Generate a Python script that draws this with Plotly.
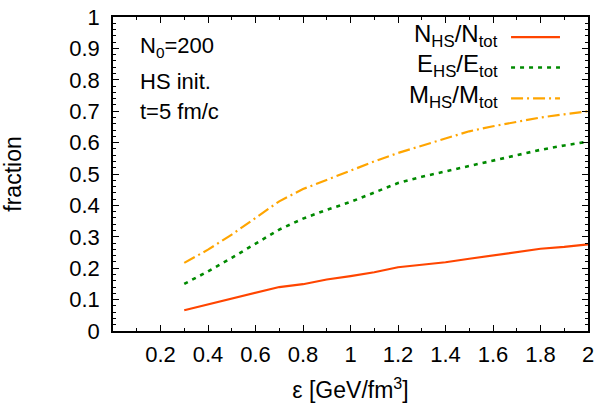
import plotly.graph_objects as go

# energy density grid [GeV/fm^3]
eps = [0.3, 0.4, 0.5, 0.6, 0.7, 0.8, 0.9, 1.0, 1.1, 1.2,
       1.3, 1.4, 1.5, 1.6, 1.7, 1.8, 1.9, 2.0]

# hot-spot fractions at t = 5 fm/c
n_frac = [0.066, 0.085, 0.102, 0.121, 0.140, 0.149, 0.164, 0.175, 0.187,
          0.203, 0.211, 0.219, 0.230, 0.240, 0.251, 0.262, 0.268, 0.276]
e_frac = [0.150, 0.190, 0.233, 0.277, 0.323, 0.358, 0.386, 0.411, 0.442,
          0.471, 0.491, 0.508, 0.525, 0.542, 0.560, 0.577, 0.591, 0.603]
m_frac = [0.217, 0.259, 0.307, 0.360, 0.413, 0.452, 0.482, 0.510, 0.540,
          0.567, 0.590, 0.612, 0.636, 0.652, 0.667, 0.680, 0.690, 0.700]

series_names = ["N<sub>HS</sub>/N<sub>tot</sub>",
                "E<sub>HS</sub>/E<sub>tot</sub>",
                "M<sub>HS</sub>/M<sub>tot</sub>"]
series_colors = ["#ff4500", "#008a00", "#ffa500"]
series_dash = ["solid", "4px,5px", "12px,4px,2px,4px"]
series_width = [2.2, 2.6, 2.2]

x_tickvals = [0.2, 0.4, 0.6, 0.8, 1.0, 1.2, 1.4, 1.6, 1.8, 2.0]
x_ticktext = ["0.2", "0.4", "0.6", "0.8", "1", "1.2", "1.4", "1.6", "1.8", "2"]
y_tickvals = [0, 0.1, 0.2, 0.3, 0.4, 0.5, 0.6, 0.7, 0.8, 0.9, 1.0]
y_ticktext = ["0", "0.1", "0.2", "0.3", "0.4", "0.5", "0.6", "0.7", "0.8", "0.9", "1"]

info_lines = ["N<sub>0</sub>=200", "HS init.", "t=5 fm/c"]

FONT = "Liberation Sans, Arial, sans-serif"
FS_TICK = 22
FS_TITLE = 23
FS_KEY = 24
FS_INFO = 22

fig = go.Figure()
for ys, nm, col, dsh, w in zip([n_frac, e_frac, m_frac], series_names,
                               series_colors, series_dash, series_width):
    fig.add_trace(go.Scatter(x=eps, y=ys, mode="lines", name=nm,
                             line=dict(color=col, dash=dsh, width=w),
                             showlegend=False))

# key drawn in gnuplot style: right-aligned text followed by the line sample
key_y = [0.936, 0.839, 0.741]
for nm, col, dsh, w, ky in zip(series_names, series_colors, series_dash,
                               series_width, key_y):
    fig.add_annotation(x=0.814, y=ky + 0.006, xref="paper", yref="paper",
                       text=nm, showarrow=False, xanchor="right",
                       yanchor="middle",
                       font=dict(size=FS_KEY, family=FONT, color="black"))
    fig.add_shape(type="line", xref="paper", yref="paper",
                  x0=0.838, x1=0.941, y0=ky, y1=ky,
                  line=dict(color=col, dash=dsh, width=w))

info_y = [0.904, 0.796, 0.700]
for txt, iy in zip(info_lines, info_y):
    fig.add_annotation(x=0.052, y=iy, xref="paper", yref="paper", text=txt,
                       showarrow=False, xanchor="left", yanchor="middle",
                       font=dict(size=FS_INFO, family=FONT, color="black"))

axis_common = dict(showline=True, linecolor="black", linewidth=1.5,
                   mirror="allticks", ticks="inside", ticklen=6,
                   tickwidth=1.2, tickcolor="black", showgrid=False,
                   zeroline=False, automargin=False,
                   tickfont=dict(size=FS_TICK, family=FONT, color="black"))

fig.update_xaxes(range=[0, 2], tickvals=x_tickvals, ticktext=x_ticktext,
                 ticklabelstandoff=3,
                 minor=dict(ticks="inside", ticklen=3, dtick=0.1, tick0=0,
                            tickcolor="black", showgrid=False),
                 title=dict(text="\u03b5 [GeV/fm<sup>3</sup>]",
                            font=dict(size=FS_TITLE, family=FONT, color="black"),
                            standoff=16),
                 **axis_common)
fig.update_yaxes(range=[0, 1], tickvals=y_tickvals, ticktext=y_ticktext,
                 ticklabelstandoff=7,
                 minor=dict(ticks="inside", ticklen=3, dtick=0.02, tick0=0,
                            tickcolor="black", showgrid=False),
                 title=dict(text="fraction",
                            font=dict(size=FS_TITLE, family=FONT, color="black"),
                            standoff=41),
                 **axis_common)

fig.update_layout(width=600, height=405,
                  margin=dict(l=113, r=12, t=17, b=74),
                  plot_bgcolor="white", paper_bgcolor="white",
                  font=dict(family=FONT, color="black"))

fig.write_html("out.html")
